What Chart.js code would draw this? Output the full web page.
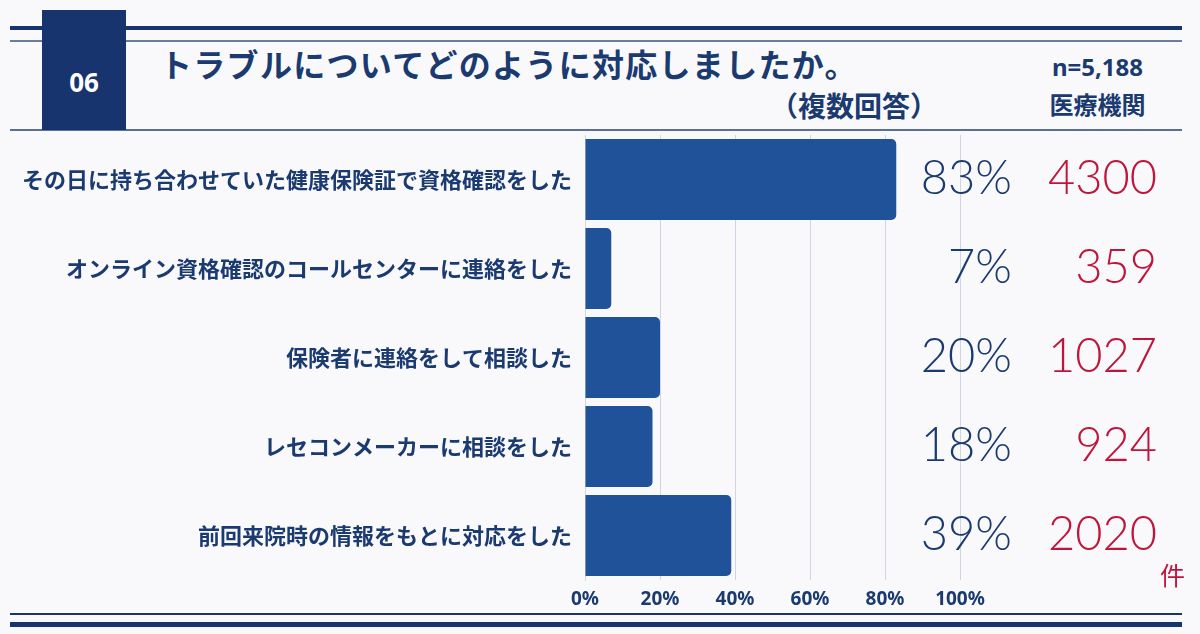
<!DOCTYPE html>
<html lang="ja">
<head>
<meta charset="utf-8">
<script src="https://cdn.jsdelivr.net/npm/chart.js@4/dist/chart.umd.min.js"></script>
<style>
  html, body { margin: 0; padding: 0; background: #f9f9fb; }
  body { width: 1200px; height: 634px; position: relative; overflow: hidden;
         font-family: "Noto Sans CJK JP", "Noto Sans", sans-serif; color: #1a3a70; }
  .line { position: absolute; left: 10px; width: 1172px; }
  #chartBox { position: absolute; left: 0; top: 0; width: 1200px; height: 634px; }
  .numBox { position: absolute; left: 42px; top: 10px; width: 84px; height: 120px; background: #17346f;
            color: #fff; font-weight: 700; font-size: 26px; font-family: "Noto Sans", sans-serif;
            display: flex; align-items: flex-end; justify-content: center; padding-bottom: 30px; box-sizing: border-box; }
  .title { position: absolute; left: 160px; top: 40px; font-size: 32px; font-weight: 700; white-space: nowrap; letter-spacing: 1.3px; }
  .sub { position: absolute; right: 262px; top: 85px; font-size: 28px; font-weight: 700; white-space: nowrap; }
  .n { position: absolute; left: 1038px; width: 119px; text-align: center; font-weight: 700; white-space: nowrap; }
  .unit { position: absolute; left: 1160px; top: 556px; font-size: 25px; color: #c0143c; }
</style>
</head>
<body>
<div class="line" style="top:26px;height:4px;background:#17346f;"></div>
<div class="line" style="top:40px;height:2px;background:#6a7fa0;"></div>
<div class="line" style="top:129px;height:2px;background:#5a7096;"></div>
<div class="line" style="top:613px;height:2px;background:#17346f;"></div>
<div class="line" style="top:622px;height:5px;background:#17346f;"></div>
<div class="numBox">06</div>
<div class="title">トラブルについてどのように対応しましたか。</div>
<div class="sub">（複数回答）</div>
<div class="n" style="top:50px;font-size:24px;font-family:'Noto Sans',sans-serif;">n=5,188</div>
<div class="n" style="top:86px;font-size:24px;">医療機関</div>
<div id="chartBox"><canvas id="chart" width="1200" height="634"></canvas></div>
<div class="unit">件</div>
<script>
// data
const categories = [
  'その日に持ち合わせていた健康保険証で資格確認をした',
  'オンライン資格確認のコールセンターに連絡をした',
  '保険者に連絡をして相談した',
  'レセコンメーカーに相談をした',
  '前回来院時の情報をもとに対応をした'
];
const percents = [83, 7, 20, 18, 39];
const counts = [4300, 359, 1027, 924, 2020];
const xTicks = [0, 20, 40, 60, 80, 100];

const navy = '#1a3a70';

// percent and count text next to each bar
const valueLabels = {
  id: 'valueLabels',
  afterDatasetsDraw(chart) {
    const ctx = chart.ctx;
    const y = chart.scales.y;
    ctx.save();
    ctx.textBaseline = 'middle';
    ctx.textAlign = 'right';
    ctx.font = '300 47px Lato, "Noto Sans", sans-serif';
    percents.forEach((p, i) => {
      const cy = y.getPixelForValue(i) - 1;
      ctx.fillStyle = navy;
      ctx.fillText(p + '%', 1012, cy);
      ctx.fillStyle = '#c0143c';
      ctx.fillText(String(counts[i]), 1157, cy);
    });
    ctx.restore();
  }
};

new Chart(document.getElementById('chart'), {
  type: 'bar',
  data: {
    labels: categories,
    datasets: [{
      data: percents,
      backgroundColor: '#1f5299',
      borderRadius: 5,
      barPercentage: 0.91,
      categoryPercentage: 1
    }]
  },
  options: {
    indexAxis: 'y',
    responsive: false,
    animation: false,
    devicePixelRatio: 1,
    layout: { padding: { left: 0, right: 240, top: 135, bottom: 0 } },
    plugins: { legend: { display: false }, tooltip: { enabled: false } },
    scales: {
      x: {
        min: 0, max: 100,
        afterBuildTicks: (s) => { s.ticks = xTicks.map(v => ({ value: v })); },
        afterFit: (s) => { s.height = 54; },
        grid: { color: '#cfd5e2', lineWidth: 1, drawTicks: false },
        border: { display: false },
        ticks: {
          padding: 8,
          color: navy,
          font: { family: '"Noto Sans", sans-serif', size: 19, weight: 'bold' },
          callback: (v) => v + '%'
        }
      },
      y: {
        afterFit: (s) => { s.width = 585; },
        grid: { display: false },
        border: { display: true, color: '#cfd5e2' },
        ticks: {
          padding: 5,
          color: navy,
          font: { family: '"Noto Sans CJK JP", sans-serif', size: 22, weight: 'bold' }
        }
      }
    }
  },
  plugins: [valueLabels]
});
</script>
</body>
</html>
